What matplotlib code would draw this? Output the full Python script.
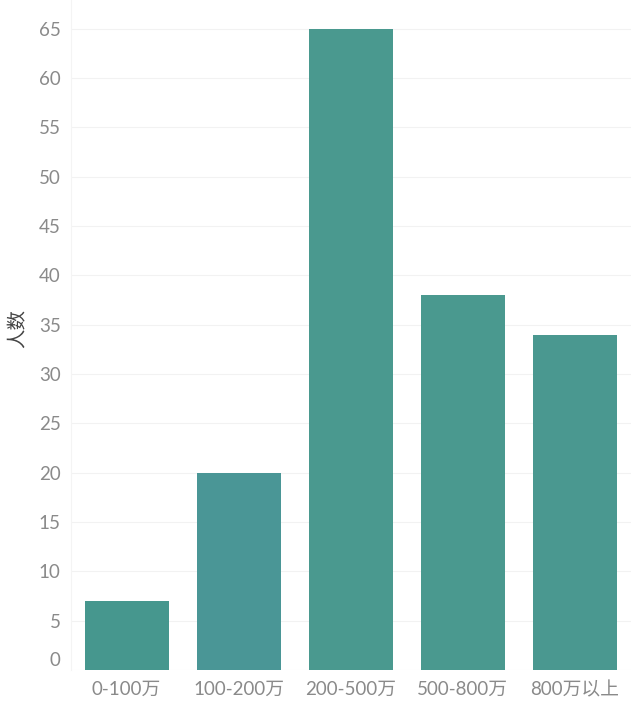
import matplotlib
matplotlib.use("Agg")
from matplotlib import pyplot as plt
from matplotlib.transforms import ScaledTranslation

plt.rcParams['font.family'] = ['Lato', 'Noto Sans CJK SC', 'DejaVu Sans']

# data
categories = ['0-100万', '100-200万', '200-500万', '500-800万', '800万以上']
counts = [7, 20, 65, 38, 34]
yticks = list(range(0, 70, 5))

bar_colors = ['#46978e', '#4a9696', '#4a998f', '#4a998f', '#4a9890']

fig = plt.figure(figsize=(6.4, 7.02), dpi=100)
ax = fig.add_axes([70.5 / 640, 32 / 702, 560 / 640, 670 / 702])

ax.bar(range(len(categories)), counts, width=0.75, color=bar_colors, zorder=2)

ax.set_xlim(-0.5, len(categories) - 0.5)
ax.set_ylim(0, 67.9)
ax.set_yticks(yticks)
ax.set_xticks(range(len(categories)))
ax.set_xticklabels(categories)

ax.grid(axis='y', color='#f2f2f2', linewidth=0.8, zorder=0)
for s in ['top', 'right', 'bottom']:
    ax.spines[s].set_visible(False)
ax.spines['left'].set_color('#f4f4f4')
ax.tick_params(axis='both', length=0, colors='#8a8a8a', labelsize=13.5)
ax.tick_params(axis='y', pad=7)
ax.tick_params(axis='x', pad=8)

# the zero label sits a bit above the baseline
lbl0 = ax.get_yticklabels()[0]
lbl0.set_transform(lbl0.get_transform() + ScaledTranslation(0, 11 / 100, fig.dpi_scale_trans))

ax.set_ylabel('人数', fontsize=14, color='#444444')
ax.yaxis.set_label_coords(-0.078, 0.51)

fig.savefig('out.png', dpi=100)
